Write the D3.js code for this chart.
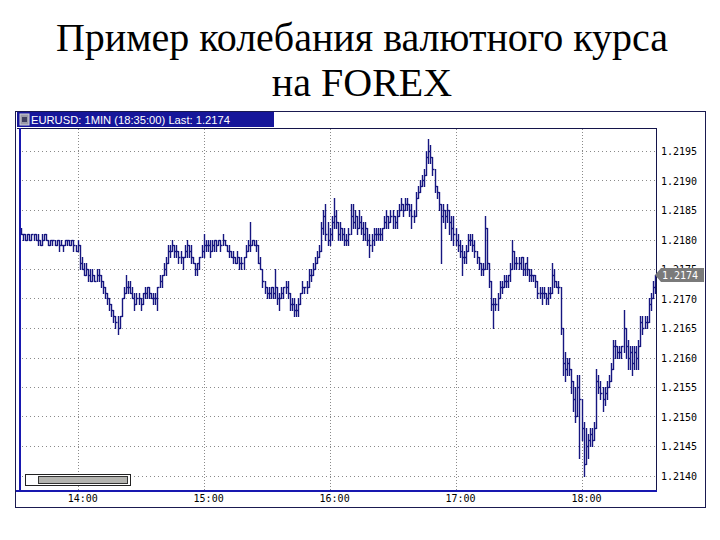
<!DOCTYPE html>
<html><head><meta charset="utf-8">
<script src="https://cdn.jsdelivr.net/npm/d3@7/dist/d3.min.js"></script>
<style>html,body{margin:0;padding:0;background:#fff;}svg{display:block;}</style>
</head><body>
<svg id="chart" width="720" height="540"></svg>
<script>
// ---- data ----
const titleLines = ["Пример колебания валютного курса", "на FOREX"];
const headerText = "EURUSD: 1MIN (18:35:00) Last: 1.2174";
const startTime = "13:33";
const endTime = "18:35";
const lastPrice = 1.2174;
const yTicks = [1.2140,1.2145,1.2150,1.2155,1.2160,1.2165,1.2170,1.2175,1.2180,1.2185,1.2190,1.2195];
const xTickLabels = ["14:00","15:00","16:00","17:00","18:00"];
const highs = [
1.2182,1.2181,1.2181,1.2181,1.2181,1.2181,1.2181,1.2181,1.2181,1.2180,1.2181,1.2181,1.2181,1.2180,1.2180,1.2180,1.2180,1.2180,1.2180,1.2180,
1.2179,1.2180,1.2180,1.2180,1.2180,1.2180,1.2179,1.2180,1.2179,1.2177,1.2176,1.2176,1.2175,1.2175,1.2175,1.2174,1.2175,1.2175,1.2174,1.2173,
1.2172,1.2171,1.2170,1.2169,1.2168,1.2167,1.2167,1.2167,1.2170,1.2172,1.2174,1.2173,1.2173,1.2172,1.2171,1.2171,1.2171,1.2170,1.2171,1.2172,
1.2172,1.2172,1.2171,1.2171,1.2171,1.2172,1.2174,1.2174,1.2176,1.2177,1.2179,1.2179,1.2180,1.2179,1.2179,1.2178,1.2178,1.2177,1.2179,1.2180,
1.2179,1.2179,1.2177,1.2176,1.2176,1.2177,1.2179,1.2181,1.2180,1.2180,1.2180,1.2180,1.2180,1.2180,1.2180,1.2180,1.2181,1.2180,1.2179,1.2179,
1.2178,1.2178,1.2177,1.2178,1.2177,1.2177,1.2177,1.2179,1.2180,1.2183,1.2180,1.2180,1.2180,1.2179,1.2177,1.2175,1.2173,1.2172,1.2172,1.2172,
1.2172,1.2175,1.2172,1.2171,1.2172,1.2172,1.2173,1.2173,1.2171,1.2170,1.2170,1.2169,1.2170,1.2171,1.2173,1.2172,1.2173,1.2175,1.2175,1.2176,
1.2177,1.2178,1.2179,1.2183,1.2185,1.2186,1.2183,1.2182,1.2184,1.2187,1.2185,1.2183,1.2183,1.2182,1.2182,1.2181,1.2182,1.2186,1.2186,1.2185,
1.2184,1.2185,1.2184,1.2183,1.2183,1.2182,1.2181,1.2181,1.2182,1.2182,1.2182,1.2182,1.2182,1.2184,1.2185,1.2184,1.2185,1.2185,1.2184,1.2185,
1.2186,1.2187,1.2186,1.2187,1.2187,1.2186,1.2186,1.2185,1.2188,1.2189,1.2190,1.2191,1.2192,1.2195,1.2197,1.2196,1.2194,1.2192,1.2189,1.2188,
1.2186,1.2186,1.2185,1.2186,1.2185,1.2184,1.2184,1.2182,1.2181,1.2180,1.2179,1.2178,1.2179,1.2181,1.2181,1.2181,1.2180,1.2178,1.2177,1.2176,
1.2176,1.2184,1.2182,1.2176,1.2173,1.2170,1.2170,1.2171,1.2173,1.2173,1.2174,1.2174,1.2174,1.2176,1.2180,1.2178,1.2177,1.2177,1.2177,1.2177,
1.2176,1.2177,1.2175,1.2175,1.2174,1.2174,1.2173,1.2172,1.2172,1.2172,1.2171,1.2172,1.2172,1.2176,1.2175,1.2173,1.2173,1.2172,1.2165,1.2161,
1.2160,1.2160,1.2158,1.2156,1.2155,1.2157,1.2157,1.2153,1.2149,1.2148,1.2147,1.2148,1.2148,1.2149,1.2158,1.2157,1.2156,1.2155,1.2155,1.2156,
1.2157,1.2159,1.2163,1.2163,1.2162,1.2162,1.2162,1.2168,1.2165,1.2163,1.2162,1.2162,1.2162,1.2162,1.2163,1.2167,1.2167,1.2167,1.2167,1.2170,
1.2171,1.2173,1.2174];
const lows = [
1.2181,1.2180,1.2180,1.2180,1.2180,1.2180,1.2180,1.2180,1.2179,1.2179,1.2179,1.2180,1.2180,1.2179,1.2179,1.2179,1.2179,1.2179,1.2178,1.2179,
1.2178,1.2179,1.2179,1.2179,1.2179,1.2178,1.2178,1.2178,1.2175,1.2175,1.2174,1.2174,1.2173,1.2173,1.2173,1.2173,1.2173,1.2173,1.2172,1.2171,
1.2170,1.2169,1.2168,1.2167,1.2166,1.2165,1.2164,1.2165,1.2167,1.2170,1.2171,1.2171,1.2171,1.2170,1.2168,1.2169,1.2169,1.2168,1.2169,1.2170,
1.2170,1.2170,1.2170,1.2169,1.2169,1.2168,1.2172,1.2172,1.2174,1.2174,1.2176,1.2177,1.2178,1.2177,1.2177,1.2176,1.2176,1.2175,1.2177,1.2177,
1.2177,1.2176,1.2176,1.2174,1.2174,1.2175,1.2177,1.2177,1.2178,1.2178,1.2177,1.2178,1.2178,1.2178,1.2179,1.2178,1.2179,1.2179,1.2178,1.2177,
1.2177,1.2176,1.2176,1.2176,1.2175,1.2175,1.2175,1.2177,1.2178,1.2178,1.2179,1.2179,1.2178,1.2176,1.2175,1.2172,1.2171,1.2170,1.2170,1.2170,
1.2170,1.2170,1.2169,1.2168,1.2170,1.2170,1.2171,1.2170,1.2168,1.2168,1.2167,1.2167,1.2167,1.2169,1.2171,1.2171,1.2171,1.2172,1.2173,1.2174,
1.2175,1.2176,1.2177,1.2178,1.2181,1.2180,1.2179,1.2179,1.2180,1.2182,1.2182,1.2180,1.2180,1.2180,1.2179,1.2179,1.2179,1.2181,1.2182,1.2182,
1.2181,1.2182,1.2181,1.2180,1.2180,1.2179,1.2177,1.2178,1.2179,1.2180,1.2180,1.2180,1.2180,1.2182,1.2182,1.2182,1.2183,1.2182,1.2182,1.2182,
1.2184,1.2185,1.2184,1.2185,1.2185,1.2184,1.2182,1.2183,1.2184,1.2187,1.2188,1.2189,1.2189,1.2191,1.2193,1.2193,1.2191,1.2188,1.2187,1.2185,
1.2176,1.2183,1.2182,1.2183,1.2181,1.2180,1.2179,1.2179,1.2178,1.2177,1.2174,1.2176,1.2176,1.2178,1.2179,1.2178,1.2177,1.2176,1.2175,1.2174,
1.2174,1.2175,1.2175,1.2172,1.2168,1.2165,1.2168,1.2168,1.2170,1.2171,1.2172,1.2172,1.2172,1.2173,1.2175,1.2175,1.2175,1.2175,1.2175,1.2174,
1.2174,1.2174,1.2173,1.2173,1.2173,1.2172,1.2170,1.2170,1.2169,1.2170,1.2169,1.2169,1.2170,1.2171,1.2172,1.2172,1.2171,1.2164,1.2157,1.2156,
1.2157,1.2157,1.2154,1.2151,1.2149,1.2150,1.2143,1.2146,1.2140,1.2142,1.2143,1.2145,1.2145,1.2146,1.2148,1.2154,1.2153,1.2151,1.2152,1.2153,
1.2155,1.2156,1.2158,1.2160,1.2160,1.2160,1.2160,1.2161,1.2160,1.2158,1.2158,1.2157,1.2158,1.2158,1.2158,1.2162,1.2164,1.2165,1.2165,1.2166,
1.2168,1.2170,1.2171];
const closes = [
1.2181,1.2181,1.2180,1.2181,1.2180,1.2181,1.2181,1.2180,1.2180,1.2179,1.2180,1.2181,1.2180,1.2179,1.2180,1.2180,1.2179,1.2180,1.2179,1.2179,
1.2179,1.2180,1.2180,1.2179,1.2180,1.2179,1.2178,1.2179,1.2176,1.2175,1.2174,1.2175,1.2174,1.2173,1.2174,1.2173,1.2174,1.2174,1.2173,1.2172,
1.2171,1.2170,1.2169,1.2168,1.2167,1.2166,1.2165,1.2167,1.2170,1.2171,1.2172,1.2172,1.2171,1.2170,1.2169,1.2170,1.2170,1.2169,1.2171,1.2171,
1.2172,1.2171,1.2170,1.2170,1.2170,1.2172,1.2173,1.2174,1.2175,1.2176,1.2178,1.2178,1.2179,1.2178,1.2178,1.2177,1.2177,1.2177,1.2178,1.2179,
1.2178,1.2177,1.2176,1.2175,1.2176,1.2177,1.2178,1.2179,1.2179,1.2179,1.2178,1.2179,1.2180,1.2179,1.2180,1.2179,1.2180,1.2179,1.2178,1.2178,
1.2177,1.2177,1.2176,1.2177,1.2176,1.2176,1.2177,1.2178,1.2179,1.2179,1.2180,1.2179,1.2179,1.2176,1.2175,1.2173,1.2172,1.2171,1.2171,1.2172,
1.2171,1.2172,1.2170,1.2170,1.2171,1.2172,1.2172,1.2171,1.2169,1.2169,1.2168,1.2168,1.2169,1.2171,1.2172,1.2172,1.2172,1.2174,1.2174,1.2175,
1.2176,1.2177,1.2178,1.2182,1.2184,1.2181,1.2180,1.2181,1.2183,1.2184,1.2183,1.2181,1.2182,1.2181,1.2180,1.2180,1.2181,1.2184,1.2183,1.2184,
1.2182,1.2183,1.2182,1.2181,1.2182,1.2180,1.2179,1.2180,1.2181,1.2181,1.2181,1.2181,1.2182,1.2183,1.2184,1.2183,1.2184,1.2184,1.2183,1.2184,
1.2185,1.2186,1.2185,1.2186,1.2186,1.2185,1.2184,1.2184,1.2187,1.2188,1.2189,1.2190,1.2191,1.2194,1.2195,1.2194,1.2192,1.2189,1.2188,1.2186,
1.2184,1.2185,1.2184,1.2185,1.2183,1.2182,1.2181,1.2180,1.2179,1.2178,1.2177,1.2177,1.2178,1.2180,1.2180,1.2179,1.2178,1.2177,1.2176,1.2175,
1.2175,1.2182,1.2176,1.2173,1.2169,1.2169,1.2169,1.2170,1.2172,1.2172,1.2173,1.2173,1.2174,1.2175,1.2178,1.2176,1.2176,1.2176,1.2177,1.2175,
1.2176,1.2175,1.2174,1.2174,1.2174,1.2173,1.2171,1.2171,1.2171,1.2171,1.2170,1.2171,1.2171,1.2174,1.2173,1.2172,1.2172,1.2165,1.2159,1.2158,
1.2159,1.2158,1.2156,1.2153,1.2150,1.2155,1.2153,1.2148,1.2142,1.2145,1.2146,1.2147,1.2146,1.2148,1.2156,1.2155,1.2154,1.2153,1.2154,1.2155,
1.2156,1.2158,1.2162,1.2162,1.2161,1.2161,1.2162,1.2165,1.2162,1.2160,1.2161,1.2159,1.2161,1.2160,1.2162,1.2166,1.2165,1.2166,1.2166,1.2169,
1.2170,1.2172,1.2174];

// ---- layout ----
const svg = d3.select("#chart");
const plot = {left: 20, right: 657, top: 128, bottom: 491};
const parse = d3.timeParse("%H:%M");
const t0 = parse(startTime), t1 = parse(endTime);
const times = d3.timeMinute.range(t0, d3.timeMinute.offset(t1, 1));
const x = d3.scaleTime().domain([t0, t1]).range([21, 655]);
const y = d3.scaleLinear().domain([1.2140, 1.2195]).range([475.5, 151]);

// title
svg.selectAll("text.title").data(titleLines).join("text")
  .attr("class","title").attr("x", 362).attr("y", (d,i)=> i===0 ? 51 : 96)
  .attr("text-anchor","middle").attr("font-family","'Liberation Serif','Times New Roman',serif")
  .attr("font-size", 40).attr("fill","#000").text(d=>d);

// outer frame
svg.append("rect").attr("x",15.5).attr("y",111.5).attr("width",690).attr("height",396)
  .attr("fill","#fff").attr("stroke","#1a1a50").attr("stroke-width",1);

// header bar
svg.append("rect").attr("x",17).attr("y",112).attr("width",257).attr("height",15).attr("fill","#16169a");
svg.append("rect").attr("x",20).attr("y",114).attr("width",9).attr("height",11).attr("fill","#9a9aa8").attr("stroke","#d0d0d8").attr("stroke-width",1);
svg.append("rect").attr("x",22).attr("y",117).attr("width",5).attr("height",5).attr("fill","#404060");
svg.append("text").attr("x",31).attr("y",123.5).attr("fill","#fff")
  .attr("font-family","'Liberation Sans',Arial,sans-serif").attr("font-size",11.2).text(headerText);

// grid
const g = svg.append("g");
g.selectAll("line.hg").data(yTicks).join("line").attr("class","hg")
  .attr("x1",plot.left+2).attr("x2",plot.right).attr("y1",d=>Math.round(y(d))+0.5).attr("y2",d=>Math.round(y(d))+0.5)
  .attr("stroke","#8a8a8a").attr("stroke-width",1).attr("stroke-dasharray","1,3");
const hourTimes = xTickLabels.map(s=>parse(s));
g.selectAll("line.vg").data(hourTimes).join("line").attr("class","vg")
  .attr("x1",d=>Math.round(x(d))+0.5).attr("x2",d=>Math.round(x(d))+0.5).attr("y1",plot.top+1).attr("y2",plot.bottom)
  .attr("stroke","#8a8a8a").attr("stroke-width",1).attr("stroke-dasharray","1,2");

// bars (HLC)
const bars = times.map((t,i)=>({t, h: highs[i], l: lows[i], c: closes[i]}));
const bg = svg.append("g").attr("stroke","#161680").attr("stroke-width",1.4).attr("fill","none");
bg.selectAll("line.bar").data(bars).join("line").attr("class","bar")
  .attr("x1",d=>Math.round(x(d.t))+0.5).attr("x2",d=>Math.round(x(d.t))+0.5)
  .attr("y1",d=>Math.round(y(d.h))).attr("y2",d=>Math.round(y(d.l))+1);
bg.selectAll("line.cl").data(bars).join("line").attr("class","cl")
  .attr("x1",d=>Math.round(x(d.t))+0.5).attr("x2",d=>Math.round(x(d.t))+2.5)
  .attr("y1",d=>Math.round(y(d.c))+0.5).attr("y2",d=>Math.round(y(d.c))+0.5);

// plot frame lines
svg.append("line").attr("x1",17).attr("x2",plot.right).attr("y1",128.5).attr("y2",128.5).attr("stroke","#14144a").attr("stroke-width",1);
svg.append("line").attr("x1",plot.right-0.5).attr("x2",plot.right-0.5).attr("y1",128).attr("y2",plot.bottom).attr("stroke","#14144a").attr("stroke-width",1);
svg.append("line").attr("x1",plot.left).attr("x2",plot.left).attr("y1",128).attr("y2",plot.bottom+1).attr("stroke","#1818b0").attr("stroke-width",2);
svg.append("line").attr("x1",16).attr("x2",plot.right).attr("y1",plot.bottom).attr("y2",plot.bottom).attr("stroke","#1818b0").attr("stroke-width",2);

// scrollbar
svg.append("rect").attr("x",25.5).attr("y",474.5).attr("width",105).attr("height",11).attr("fill","#fff").attr("stroke","#222").attr("stroke-width",1);
svg.append("rect").attr("x",38.5).attr("y",476.5).attr("width",89).attr("height",7).attr("fill","#b4b4b0").attr("stroke","#333").attr("stroke-width",1);

// right axis labels
const mono = "'DejaVu Sans Mono','Liberation Mono',monospace";
svg.selectAll("text.yl").data(yTicks).join("text").attr("class","yl")
  .attr("x",661).attr("y",d=>y(d)+4).attr("font-family",mono).attr("font-size",10).attr("fill","#000")
  .text(d=>d.toFixed(4));
// last price marker (covers lower half of the 1.2175 label, as in the reference)
const ly = Math.round(y(lastPrice));
svg.append("path").attr("d",`M655,${ly} L661,${ly-7} L704,${ly-7} L704,${ly+7} L661,${ly+7} Z`).attr("fill","#7a7a7a");
svg.append("text").attr("x",662).attr("y",ly+4).attr("font-family",mono).attr("font-size",10).attr("fill","#fff").text(lastPrice.toFixed(4));

// bottom axis labels
svg.selectAll("text.xl").data(xTickLabels).join("text").attr("class","xl")
  .attr("x",d=>x(parse(d))+5).attr("y",502).attr("text-anchor","middle")
  .attr("font-family",mono).attr("font-size",10).attr("fill","#000").text(d=>d);
</script>
</body></html>
